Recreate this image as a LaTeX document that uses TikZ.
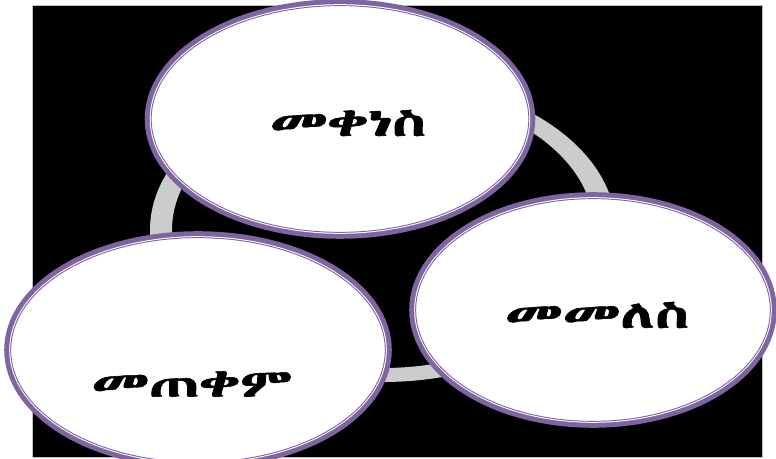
\documentclass[tikz,border=0pt]{standalone}
\usepackage{fontspec}
\usepackage{tikz}
\usetikzlibrary{shapes.geometric}
\IfFontExistsTF{Abyssinica SIL}{\newfontfamily\ethfont[FakeBold=1.5]{Abyssinica SIL}}{%
  \IfFontExistsTF{FreeSerif.otf}{\newfontfamily\ethfont[FakeBold=1.5]{FreeSerif.otf}}{%
    \IfFontExistsTF{Noto Sans Ethiopic}{\newfontfamily\ethfont{Noto Sans Ethiopic}}{%
      \newfontfamily\ethfont{DejaVu Sans}}}}
\definecolor{cyclepurple}{RGB}{128,100,162}
\definecolor{cyclegray}{RGB}{204,204,204}

\begin{document}
\begin{tikzpicture}[x=0.03cm,y=-0.03cm,
    bubble/.style={ellipse,fill=white,draw=white,line width=2.5pt,inner sep=0pt,
      preaction={draw=cyclepurple,line width=11pt},
      postaction={draw=cyclepurple,line width=0.8pt}},
    word/.style={font=\ethfont\fontsize{33}{37}\selectfont,text=black,inner sep=0pt}]
    \useasboundingbox (0,0) rectangle (776,459);
    \clip (0,0) rectangle (776,459);
    \fill[white] (0,0) rectangle (776,459);
    \filldraw[fill=black,draw=gray!50,line width=0.6pt] (32,5) rectangle (762,457);
    % ring behind the three bubbles
    \fill[cyclegray,even odd rule] (383,230) ellipse [x radius=233,y radius=152]
        (383,230) ellipse [x radius=211,y radius=138];
    \node[bubble,minimum width=11.33cm,minimum height=6.8cm] (bTop) at (340,119) {};
    \node[bubble,minimum width=11.24cm,minimum height=6.74cm] (bLeft) at (198,350) {};
    \node[bubble,minimum width=10.64cm,minimum height=6.68cm] (bRight) at (593,310) {};
    \node[word] (wTop) at (348,123) {\scalebox{1.6}[1]{መቀነስ}};
    \node[word] (wRight) at (597,315) {\scalebox{1.6}[1]{መመለስ}};
    \node[word] (wLeft) at (192,384) {\scalebox{1.6}[1]{መጠቀም}};
\end{tikzpicture}
\end{document}
